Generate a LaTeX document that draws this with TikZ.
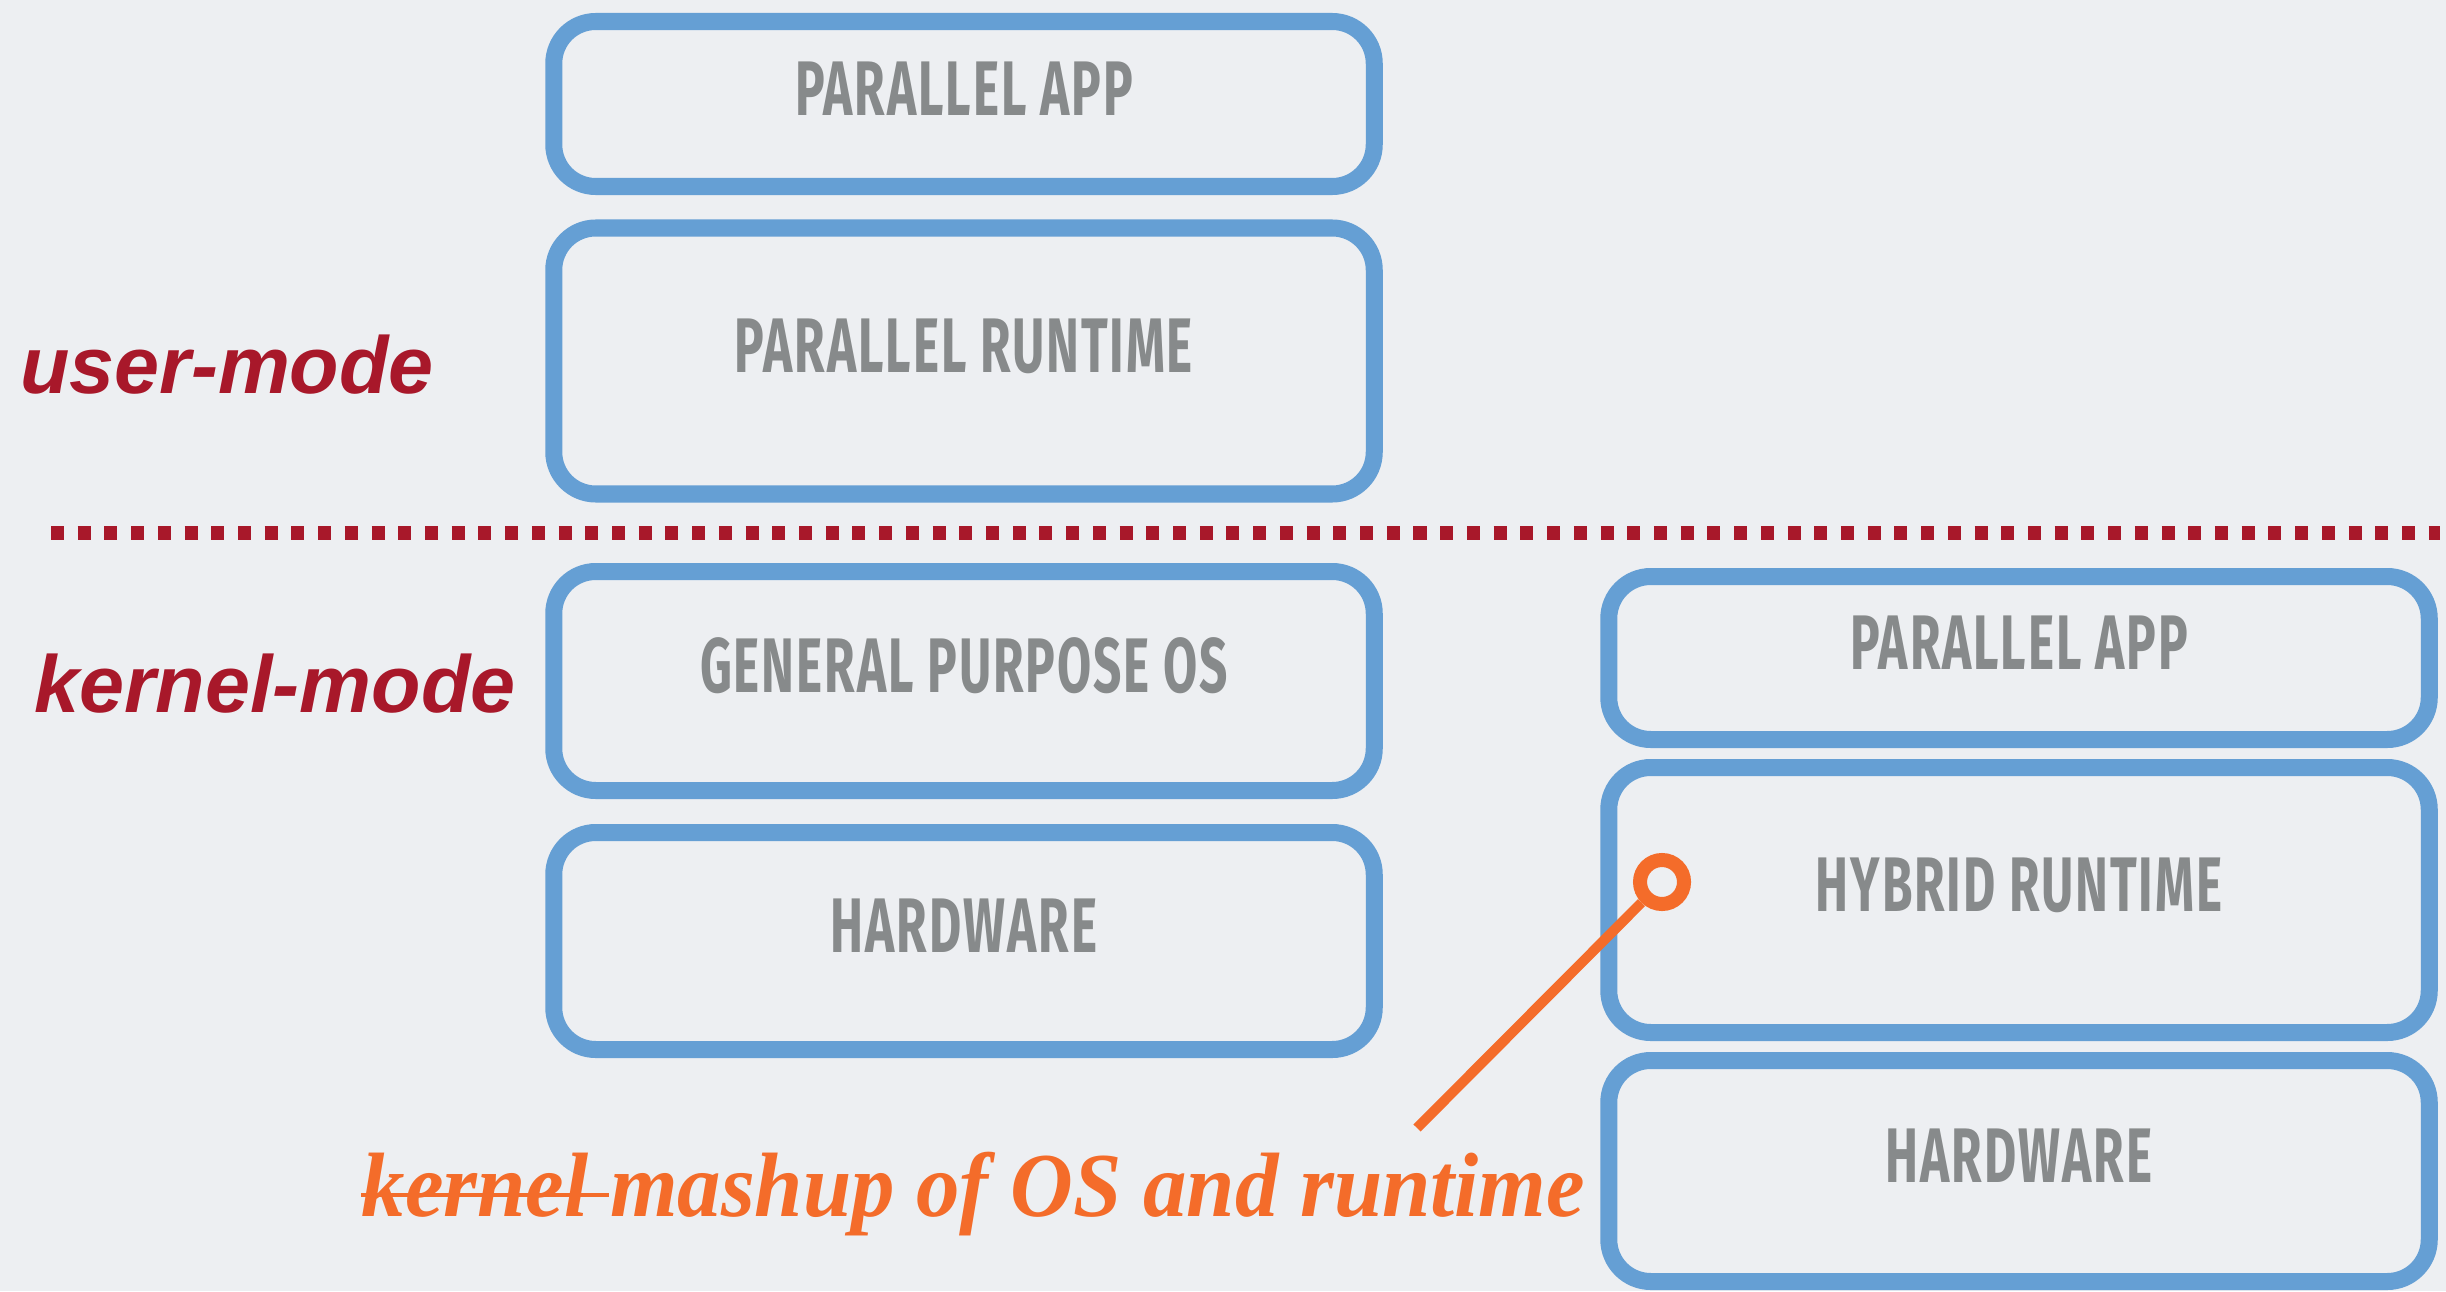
\documentclass[tikz,border=0pt]{standalone}
\usepackage{fontspec}
\usepackage{tikz}
\usepackage{xcolor}

\newfontfamily\layerfont[FakeStretch=0.64,LetterSpace=2.5]{Fira Sans}
\newfontfamily\modefont{Liberation Sans}
\newfontfamily\mashfont[FakeStretch=0.95]{Liberation Serif}

\definecolor{slidebg}{HTML}{EDEFF2}
\definecolor{layerblue}{HTML}{659FD4}
\definecolor{layergray}{HTML}{878A8B}
\definecolor{modered}{HTML}{A8182A}
\definecolor{mashorange}{HTML}{F46C2A}

\begin{document}
\begin{tikzpicture}[x=0.01cm,y=-0.01cm,
  layer/.style={draw=layerblue,line width=0.17cm,rounded corners=0.42cm,
    minimum width=8.2cm,text height=0.53cm,text depth=0.3cm,inner sep=0pt,
    text=layergray,font=\layerfont\bfseries\fontsize{22}{24}\selectfont},
  modelabel/.style={anchor=base,text=modered,
    font=\modefont\bfseries\itshape\fontsize{23}{26}\selectfont},
  modesep/.style={draw=modered,line width=0.14cm,dash pattern=on 0.13cm off 0.137cm},
  mashnote/.style={text=mashorange,inner sep=0pt,
    font=\mashfont\bfseries\itshape\fontsize{26}{30}\selectfont},
  hubring/.style={circle,draw=mashorange,line width=0.14cm,minimum size=0.44cm,inner sep=0pt},
  mashline/.style={draw=mashorange,line width=0.1cm}]

\useasboundingbox (0,0) rectangle (2446,1291);
\fill[slidebg] (0,0) rectangle (2446,1291);

% left stack: classic split between user and kernel
\foreach \name/\cx/\cy/\h/\txt in {%
  lapp/964/104/165/{PARALLEL APP},
  lrt/964/361/266/{PARALLEL RUNTIME},
  los/964/681/219/{GENERAL PURPOSE OS},
  lhw/964/941/217/{HARDWARE},
  rapp/2019/658/163/{PARALLEL APP},
  rhrt/2019/900/265/{HYBRID RUNTIME},
  rhw/2019/1171/221/{HARDWARE}}{%
  \node[layer,minimum height=\h*0.01cm] (\name) at (\cx,\cy) {\txt};
}

\node[modelabel] (umode) at (227,393) {user-mode};
\node[modelabel] (kmode) at (275,712) {kernel-mode};

\coordinate (sepL) at (51,533);
\coordinate (sepR) at (2440,533);
\draw[modesep] (sepL) -- (sepR);

% callout into the hybrid runtime
\node[hubring] (hub) at (1662,882) {};
\coordinate (tail) at (1417,1128);
\draw[mashline] (hub) -- (tail);
\node[mashnote,anchor=base west] (strk) at (361,1216) {kernel\kern0.22em};
\node[mashnote,anchor=base west] (mash) at (strk.base east) {mashup of OS and runtime};
\draw[mashorange,line width=0.04cm]
  ([yshift=0.21cm]strk.base west) -- ([yshift=0.21cm]strk.base east);

\end{tikzpicture}
\end{document}
